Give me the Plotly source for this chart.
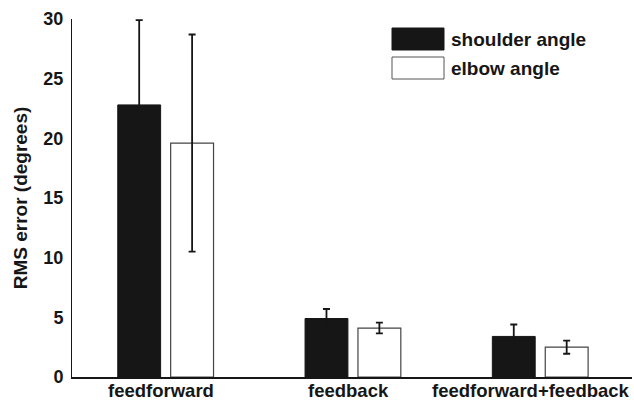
import plotly.graph_objects as go

categories = ["feedforward", "feedback", "feedforward+feedback"]
shoulder = [22.8, 4.9, 3.4]
shoulder_err = [7.1, 0.8, 1.0]
elbow = [19.6, 4.1, 2.5]
elbow_err = [9.1, 0.45, 0.55]
y_ticks = [0, 5, 10, 15, 20, 25, 30]
series_names = ["shoulder angle", "elbow angle"]

FONT = "Liberation Sans, Arial, sans-serif"
INK = "#161616"

fig = go.Figure()
fig.add_trace(go.Bar(
    x=categories, y=shoulder, name=series_names[0],
    marker=dict(color=INK, line=dict(color=INK, width=1)),
    error_y=dict(type="data", array=shoulder_err, color=INK, thickness=1.8, width=3.5),
    showlegend=False,
))
fig.add_trace(go.Bar(
    x=categories, y=elbow, name=series_names[1],
    marker=dict(color="white", line=dict(color="#444444", width=1.2)),
    error_y=dict(type="data", array=elbow_err, color=INK, thickness=1.8, width=3.5),
    showlegend=False,
))

# legend drawn as boxes + labels (paper coordinates)
legend_items = [(INK, INK), ("white", "#555555")]
for i, (fill, edge) in enumerate(legend_items):
    top = 1 - (9 + i * 29) / 358
    fig.add_shape(type="rect", xref="paper", yref="paper",
                  x0=(392 - 72) / 560, x1=(444 - 72) / 560,
                  y0=top - 22 / 358, y1=top,
                  fillcolor=fill, line=dict(color=edge, width=1))
    fig.add_annotation(xref="paper", yref="paper", x=(449 - 72) / 560, y=top - 11 / 358,
                       text="<b>" + series_names[i] + "</b>", showarrow=False,
                       xanchor="left", yanchor="middle",
                       font=dict(family=FONT, size=19, color=INK))

# category labels placed through the x scale, nudged slightly left as in the reference
label_shift = [-5, -4, -9]
for cat, dx in zip(categories, label_shift):
    fig.add_annotation(xref="x", yref="paper", x=cat, y=0, yanchor="top", xanchor="center",
                       xshift=dx, yshift=-1, showarrow=False, text="<b>" + cat + "</b>",
                       font=dict(family=FONT, size=18.5, color=INK))

fig.update_layout(
    width=634, height=404,
    margin=dict(l=72, r=2, t=19, b=27),
    paper_bgcolor="white", plot_bgcolor="white",
    barmode="group", bargap=0.435, bargroupgap=0.19,
    font=dict(family=FONT, size=18, color=INK),
    xaxis=dict(range=[-0.5, 2.49], showline=True, linecolor=INK, linewidth=1.5,
               ticks="", showgrid=False, zeroline=False, automargin=False,
               showticklabels=False),
    yaxis=dict(range=[0, 30], tickvals=y_ticks, showline=True, linecolor=INK, linewidth=1,
               ticks="", showgrid=False, zeroline=False, ticklabelstandoff=4,
               tickfont=dict(family=FONT, size=18, color=INK, weight="bold"),
               title=dict(text="<b>RMS error (degrees)</b>", standoff=10,
                          font=dict(family=FONT, size=19, color=INK))),
)

fig.write_html("out.html", config={"displayModeBar": False},
               post_script="document.body.style.margin='0';")
